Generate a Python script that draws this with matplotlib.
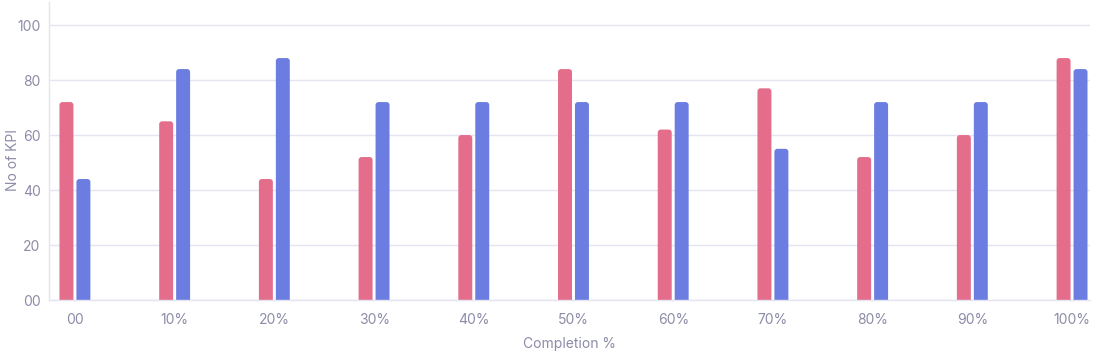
import numpy as np
import matplotlib.pyplot as plt
from matplotlib.patches import FancyBboxPatch

categories = ['00', '10%', '20%', '30%', '40%', '50%', '60%', '70%', '80%', '90%', '100%']
red_values = [72, 65, 44, 52, 60, 84, 62, 77, 52, 60, 88]
blue_values = [44, 84, 88, 72, 72, 72, 72, 55, 72, 72, 84]
y_ticks = [0, 20, 40, 60, 80, 100]
y_tick_labels = ['00', '20', '40', '60', '80', '100']

RED = '#E36D8A'
BLUE = '#6B7DE0'
GRID = '#E4E4F2'
TEXT = '#8C8CA8'

plt.rcParams['font.family'] = ['Inter', 'DejaVu Sans']

fig = plt.figure(figsize=(10.97, 3.58), dpi=100)
ax = fig.add_axes([49 / 1097, 58 / 358, (1090 - 49) / 1097, (300 - 2) / 358])

x = np.arange(len(categories))
w = 0.14
off = 0.085
bars_r = ax.bar(x - off, red_values, width=w, color=RED)
bars_b = ax.bar(x + off, blue_values, width=w, color=BLUE)

# swap plain bars for ones with rounded tops (bottom gets clipped by the axes)
for bars in (bars_r, bars_b):
    for r in bars:
        r.set_visible(False)
        p = FancyBboxPatch((r.get_x(), -3), r.get_width(), r.get_height() + 3,
                           boxstyle='round,pad=0,rounding_size=0.03',
                           mutation_aspect=36, facecolor=r.get_facecolor(),
                           edgecolor='none', zorder=2)
        ax.add_patch(p)

ax.set_xlim(-0.26, 10.18)
ax.set_ylim(0, 108.4)
ax.set_yticks(y_ticks)
ax.set_yticklabels(y_tick_labels)
ax.set_xticks(x)
ax.set_xticklabels(categories)

ax.grid(axis='y', color=GRID, linewidth=1)
ax.set_axisbelow(True)
for s in ['top', 'right']:
    ax.spines[s].set_visible(False)
for s in ['left', 'bottom']:
    ax.spines[s].set_color(GRID)
    ax.spines[s].set_linewidth(1)

ax.tick_params(axis='both', length=0, colors=TEXT, labelsize=10)
ax.tick_params(axis='x', pad=9)
ax.tick_params(axis='y', pad=6)

ax.set_xlabel('Completion %', color=TEXT, fontsize=10)
ax.xaxis.set_label_coords(0.5, -(337 - 300) / 298)
ax.set_ylabel('No of KPI', color=TEXT, fontsize=10)
ax.yaxis.set_label_coords(-29 / 1041, (300 - 160) / 298)

fig.savefig('out.png', dpi=100)
